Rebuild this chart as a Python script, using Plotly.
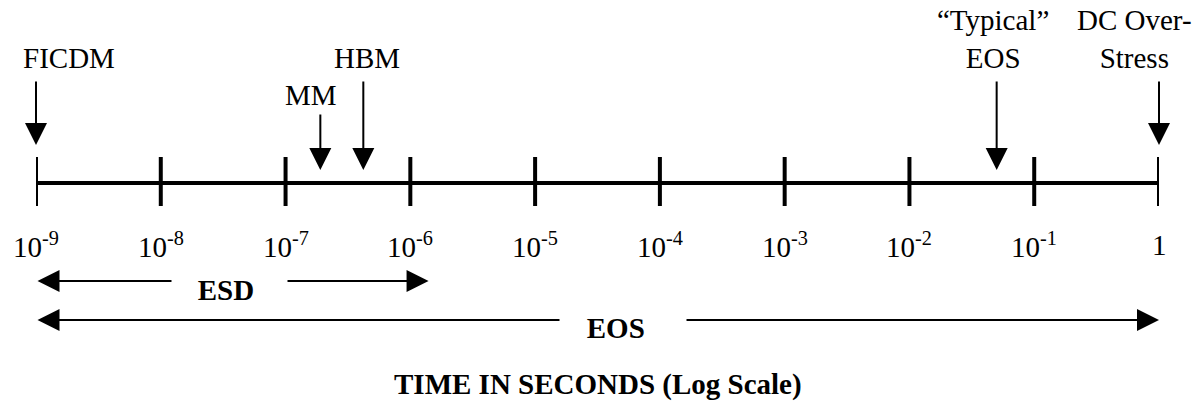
import math
import plotly.graph_objects as go

# ---------------- data ----------------
decade_ticks = [1e-9, 1e-8, 1e-7, 1e-6, 1e-5, 1e-4, 1e-3, 1e-2, 1e-1, 1.0]
tick_labels = ["10<sup>-9</sup>", "10<sup>-8</sup>", "10<sup>-7</sup>", "10<sup>-6</sup>",
               "10<sup>-5</sup>", "10<sup>-4</sup>", "10<sup>-3</sup>", "10<sup>-2</sup>",
               "10<sup>-1</sup>", "1"]

event_labels = ["FICDM", "MM", "HBM", "\u201cTypical\u201d<br>EOS", "DC Over-<br>Stress"]
event_times = [1e-9, 1.9e-7, 4.2e-7, 5e-2, 1.0]

range_labels = ["ESD", "EOS"]
range_start = [1e-9, 1e-9]
range_end = [1.4e-6, 1.0]

axis_title = "TIME IN SECONDS (Log Scale)"

# ---------------- style / layout ----------------
FIG_W, FIG_H = 1199, 410
PLOT_L, PLOT_R = 36, 1159

FONT = "Liberation Serif, Times New Roman, serif"
FS = 29
AXIS_Y = 183
TICK_TOP, TICK_BOTTOM = 157, 206
TICKLABEL_Y = 245
event_tail_y = [80, 113, 80, 80, 80]
event_tip_y = [145, 170, 170, 170, 145]
event_label_y = [58, 95, 58, 39, 39]
event_label_dx = [33, -9, 4, -4, -25]
range_y = [281, 320]
range_label_y = [290, 328]
range_label_dx = [-3, 25]
range_gap_w = [115, 126]
range_label_pad = ["\u00a0", "\u00a0\u00a0"]
TITLE_Y = 384
HEAD = 2.2

fig = go.Figure()

# main axis line
fig.add_trace(go.Scatter(x=[decade_ticks[0], decade_ticks[-1]], y=[AXIS_Y, AXIS_Y],
                         mode="lines", line=dict(color="black", width=4),
                         hoverinfo="skip", showlegend=False))
# tick marks
tx, ty = [], []
for t in decade_ticks:
    tx += [t, t, None]
    ty += [TICK_TOP, TICK_BOTTOM, None]
fig.add_trace(go.Scatter(x=tx, y=ty, mode="lines", line=dict(color="black", width=4),
                         hoverinfo="skip", showlegend=False))

annotations = []
# tick labels
for t, lab in zip(decade_ticks, tick_labels):
    annotations.append(dict(x=math.log10(t), y=TICKLABEL_Y, xref="x", yref="y",
                            text=lab, showarrow=False, xanchor="center", yanchor="middle",
                            font=dict(family=FONT, size=FS, color="black")))

# event arrows + labels
for t, lab, tail, tip, ly, dx in zip(event_times, event_labels, event_tail_y, event_tip_y,
                                     event_label_y, event_label_dx):
    lx = math.log10(t)
    annotations.append(dict(x=lx, y=tip, ax=lx, ay=tail, xref="x", yref="y",
                            axref="x", ayref="y", text="", showarrow=True,
                            arrowhead=2, arrowsize=HEAD, arrowwidth=2, arrowcolor="black",
                            standoff=0, startstandoff=0))
    annotations.append(dict(x=lx, y=ly, xref="x", yref="y", xshift=dx, text=lab,
                            showarrow=False, xanchor="center", yanchor="middle",
                            align="center",
                            font=dict(family=FONT, size=FS, color="black")))

# range double arrows + labels (label box masks the middle of the arrow)
for s, e, lab, yy, ly, dx, w, pad in zip(range_start, range_end, range_labels, range_y,
                                         range_label_y, range_label_dx, range_gap_w,
                                         range_label_pad):
    ls, le = math.log10(s), math.log10(e)
    annotations.append(dict(x=le, y=yy, ax=ls, ay=yy, xref="x", yref="y",
                            axref="x", ayref="y", text="", showarrow=True,
                            arrowside="end+start", arrowhead=2, startarrowhead=2,
                            arrowsize=HEAD, startarrowsize=HEAD, arrowwidth=2,
                            arrowcolor="black", standoff=0, startstandoff=0))
    annotations.append(dict(x=(ls + le) / 2, y=ly, xref="x", yref="y", xshift=dx,
                            text="<b>" + lab + "</b>" + pad, showarrow=False,
                            width=w, borderpad=0, bgcolor="white",
                            xanchor="center", yanchor="middle", align="center",
                            font=dict(family=FONT, size=FS, color="black")))

# axis title
annotations.append(dict(x=0.5, y=TITLE_Y, xref="paper", yref="y",
                        text="<b>" + axis_title + "</b>", showarrow=False,
                        xanchor="center", yanchor="middle",
                        font=dict(family=FONT, size=FS, color="black")))

fig.update_layout(
    width=FIG_W, height=FIG_H,
    margin=dict(l=PLOT_L, r=FIG_W - PLOT_R, t=0, b=0, pad=0),
    paper_bgcolor="white", plot_bgcolor="white",
    xaxis=dict(type="log", range=[-9, 0], visible=False, fixedrange=True),
    yaxis=dict(range=[FIG_H, 0], visible=False, fixedrange=True),
    annotations=annotations,
    showlegend=False,
)

# remove the browser's default 8px body margin so the figure sits at the page origin
fig.write_html("out.html", config={"displayModeBar": False},
               post_script="document.body.style.margin='0';document.body.style.overflow='hidden';")
